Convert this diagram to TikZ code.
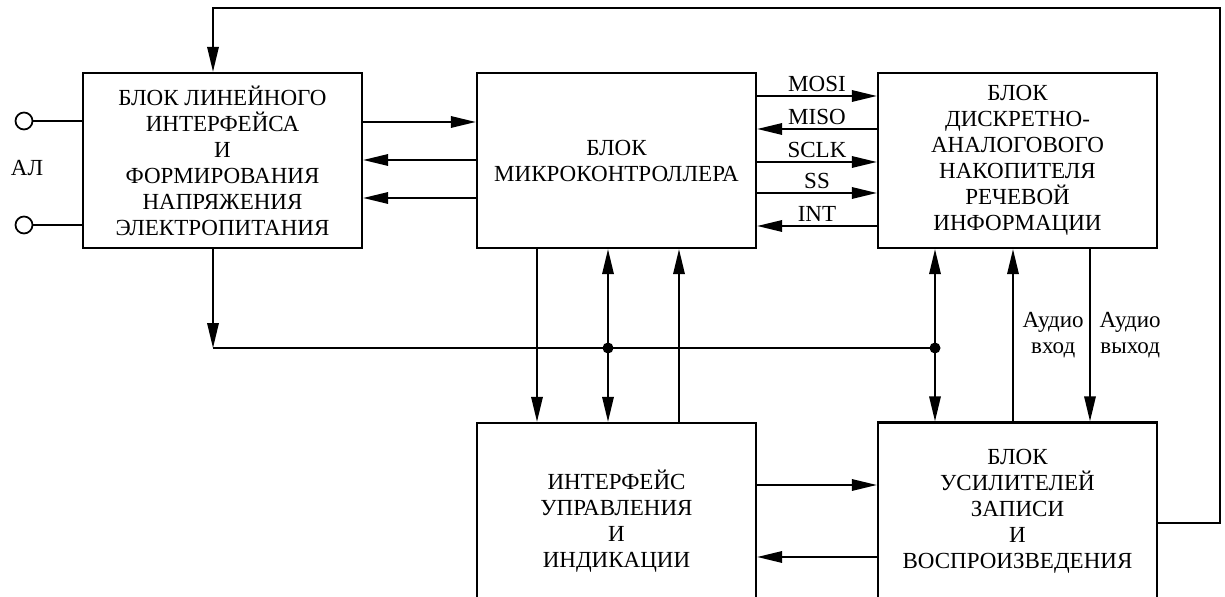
\documentclass[tikz,border=0pt]{standalone}
\usepackage{fontspec}
\setmainfont{Liberation Serif}
\usetikzlibrary{arrows.meta,positioning,calc}

\begin{document}
\begin{tikzpicture}[x=0.02cm,y=-0.02cm,
  blk/.style={draw, line width=1.4pt, minimum width=5.58cm, minimum height=3.5cm, align=center, inner sep=0pt, font=\fontsize{13.1}{14.8}\selectfont},
  sig/.style={line width=1pt},
  lab/.style={font=\fontsize{13.1}{14.8}\selectfont, inner sep=2pt},
  >={Triangle[length=5mm,width=2.3mm]}]
  \useasboundingbox (0,0) rectangle (1225,597);

  \node[blk] (lin) at (222.5,160.5) {БЛОК ЛИНЕЙНОГО\\ИНТЕРФЕЙСА\\И\\ФОРМИРОВАНИЯ\\НАПРЯЖЕНИЯ\\ЭЛЕКТРОПИТАНИЯ};
  \node[blk] (mcu) at (616.5,160.5) {БЛОК\\МИКРОКОНТРОЛЛЕРА};
  \node[blk] (nak) at (1017.5,160.5) {БЛОК\\ДИСКРЕТНО-\\АНАЛОГОВОГО\\НАКОПИТЕЛЯ\\РЕЧЕВОЙ\\ИНФОРМАЦИИ};
  \node[blk, minimum height=3.92cm] (ifc) at (616.5,521) {ИНТЕРФЕЙС\\УПРАВЛЕНИЯ\\И\\ИНДИКАЦИИ};
  \node[blk, minimum height=3.54cm] (amp) at (1017.5,511) {БЛОК\\УСИЛИТЕЛЕЙ\\ЗАПИСИ\\И\\ВОСПРОИЗВЕДЕНИЯ};

  \node[circle, draw, sig, minimum size=0.34cm, inner sep=0pt] (t1) at (24,121) {};
  \node[circle, draw, sig, minimum size=0.34cm, inner sep=0pt] (t2) at (24,225) {};
  \node[lab] (al) at (27,168) {АЛ};
  \draw[sig] (t1) -- (lin.west |- t1);
  \draw[sig] (t2) -- (lin.west |- t2);

  \draw[sig,->] (lin.east |- 0,122) -- (mcu.west |- 0,122);
  \draw[sig,->] (mcu.west |- 0,160) -- (lin.east |- 0,160);
  \draw[sig,->] (mcu.west |- 0,198) -- (lin.east |- 0,198);

  \foreach \y/\t in {96/MOSI, 162/SCLK, 193/SS}
    \draw[sig,->] (mcu.east |- 0,\y) -- node[lab, above] {\t} (nak.west |- 0,\y);
  \foreach \y/\t in {129/MISO, 226/INT}
    \draw[sig,->] (nak.west |- 0,\y) -- node[lab, above] {\t} (mcu.east |- 0,\y);

  \coordinate (b0) at (213,348);
  \coordinate (b1) at (608,348);
  \coordinate (b2) at (935,348);
  \draw[sig,->] (lin.south -| b0) -- (b0);
  \draw[sig] (b0) -- (b2);
  \fill (b1) circle (0.11cm);
  \fill (b2) circle (0.11cm);

  \draw[sig,->] (mcu.south -| 537,0) -- (ifc.north -| 537,0);
  \draw[sig,<->] (mcu.south -| b1) -- (ifc.north -| b1);
  \draw[sig,->] (ifc.north -| 679,0) -- (mcu.south -| 679,0);

  \draw[sig,<->] (nak.south -| b2) -- (amp.north -| b2);
  \draw[sig,->] (amp.north -| 1013,0) -- node[lab, right, align=center, inner sep=5pt] (ain) {Аудио\\вход} (nak.south -| 1013,0);
  \draw[sig,->] (nak.south -| 1090,0) -- node[lab, right, align=center, inner sep=5pt] (aout) {Аудио\\выход} (amp.north -| 1090,0);

  \draw[sig,->] (ifc.east |- 0,485) -- (amp.west |- 0,485);
  \draw[sig,->] (amp.west |- 0,557) -- (ifc.east |- 0,557);

  \coordinate (c1) at (1220,523);
  \coordinate (c2) at (1220,8);
  \coordinate (c3) at (213,8);
  \draw[sig,->] (amp.east |- c1) -- (c1) -- (c2) -- (c3) -- (lin.north -| c3);
\end{tikzpicture}
\end{document}
